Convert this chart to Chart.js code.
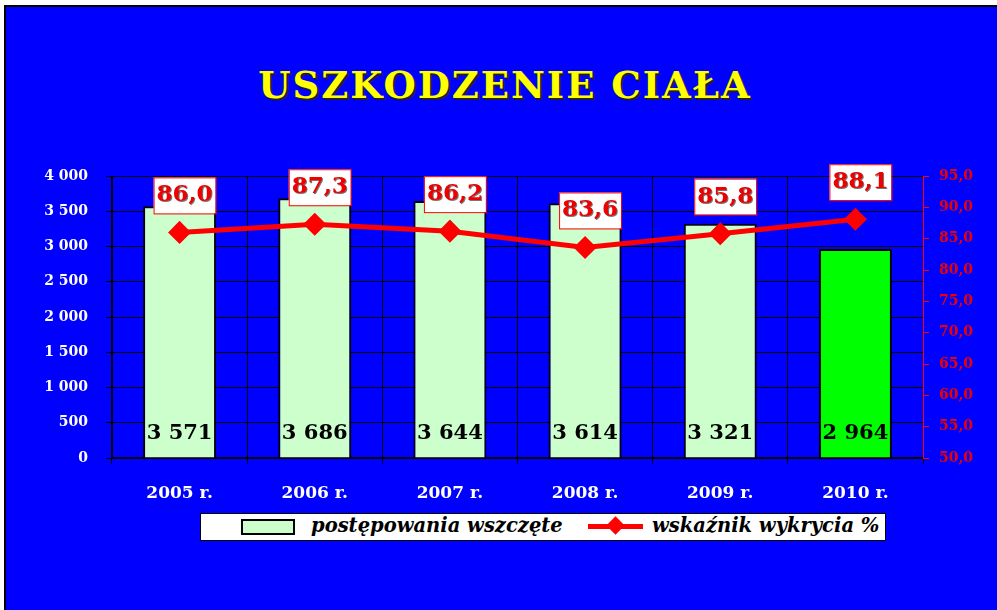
<!DOCTYPE html>
<html>
<head>
<meta charset="utf-8">
<script src="https://cdn.jsdelivr.net/npm/chart.js@4"></script>
<style>
   html, body { margin: 0; padding: 0; background: #fff; }
   #frame {
      position: absolute; left: 4px; top: 5px; width: 991px; height: 603px;
      background: #0000ff; border: 2px solid #000; border-right: none; border-bottom: none;
      overflow: hidden;
   }
   #title {
      position: absolute; left: 0; top: 56px; width: 998px; text-align: center;
      font: bold 37px "DejaVu Serif", serif; color: #ffff00;
      text-shadow: 2px 2px 0 #222;
      letter-spacing: 2px;
   }
   #chart-wrap { position: absolute; left: -6px; top: -7px; width: 997px; height: 610px; }
   #legend {
      position: absolute; left: 194px; top: 506px; width: 684px; height: 26px;
      background: #fff; border: 1px solid #000;
      font: italic bold 19.5px "DejaVu Serif", serif; color: #000;
   }
   #legend .item { position: absolute; top: 0px; white-space: nowrap; }
   #legend .box {
      position: absolute; left: 40px; top: 5px; width: 50px; height: 12px;
      background: #ccffcc; border: 2px solid #000;
   }
   #legend .line { position: absolute; left: 387px; top: 10px; width: 55px; height: 5px; background: #ff0000; }
   #legend .dia {
      position: absolute; left: 408px; top: 5px; width: 13px; height: 13px;
      background: #ff0000; transform: rotate(45deg);
   }
</style>
</head>
<body>
<div id="frame">
   <div id="title">USZKODZENIE CIAŁA</div>
   <div id="chart-wrap"><canvas id="chart" width="997" height="610"></canvas></div>
   <div id="legend">
      <div class="box"></div>
      <div class="item" style="left: 110px;">postępowania wszczęte</div>
      <div class="line"></div>
      <div class="dia"></div>
      <div class="item" style="left: 451px;">wskaźnik wykrycia %</div>
   </div>
</div>
<script>
const years = ['2005 r.', '2006 r.', '2007 r.', '2008 r.', '2009 r.', '2010 r.'];
const cases = [3571, 3686, 3644, 3614, 3321, 2964];
const detection = [86.0, 87.3, 86.2, 83.6, 85.8, 88.1];
const barColors = ['#ccffcc', '#ccffcc', '#ccffcc', '#ccffcc', '#ccffcc', '#00ff00'];

const serif = '"DejaVu Serif", serif';

function fmtThousands(v) {
   return String(v).replace(/\B(?=(\d{3})+(?!\d))/g, ' ');
}
function fmtComma(v) {
   return v.toFixed(1).replace('.', ',');
}

// draws the value labels: numbers at bar foot, boxed percentages above the points
const valueLabels = {
   id: 'valueLabels',
   afterDatasetsDraw(chart) {
      const ctx = chart.ctx;
      const bars = chart.getDatasetMeta(0).data;
      const pts = chart.getDatasetMeta(1).data;
      const base = chart.scales.y.getPixelForValue(0);
      ctx.save();
      ctx.textAlign = 'center';
      ctx.textBaseline = 'middle';
      ctx.font = 'bold 21px ' + serif;
      ctx.fillStyle = '#000';
      bars.forEach((b, i) => {
         ctx.fillText(fmtThousands(cases[i]), b.x, base - 24);
      });
      ctx.font = 'bold 23px ' + serif;
      pts.forEach((p, i) => {
         const cx = p.x + 5, cy = p.y - 37;
         ctx.fillStyle = '#fff';
         ctx.fillRect(cx - 31, cy - 18, 62, 36);
         ctx.strokeStyle = '#ff0000';
         ctx.lineWidth = 1;
         ctx.strokeRect(cx - 31 + 0.5, cy - 18 + 0.5, 62, 36);
         ctx.fillStyle = '#777';
         ctx.fillText(fmtComma(detection[i]), cx + 1, cy + 1);
         ctx.fillStyle = '#ee0000';
         ctx.fillText(fmtComma(detection[i]), cx, cy);
      });
      ctx.restore();
   }
};

new Chart(document.getElementById('chart'), {
   data: {
      labels: years,
      datasets: [
         {
            type: 'bar',
            label: 'postępowania wszczęte',
            data: cases,
            yAxisID: 'y',
            backgroundColor: barColors,
            borderColor: '#000',
            borderWidth: 2,
            barPercentage: 0.54,
            categoryPercentage: 1,
            order: 2
         },
         {
            type: 'line',
            label: 'wskaźnik wykrycia %',
            data: detection,
            yAxisID: 'y1',
            borderColor: '#ff0000',
            backgroundColor: '#ff0000',
            borderWidth: 5,
            pointStyle: 'rectRot',
            pointRadius: 8,
            tension: 0,
            order: 1
         }
      ]
   },
   options: {
      responsive: false,
      animation: false,
      layout: { padding: { top: 176, left: 0, right: 0, bottom: 0 } },
      plugins: {
         legend: { display: false },
         tooltip: { enabled: false }
      },
      scales: {
         x: {
            grid: { color: '#000', lineWidth: 1, offset: true, drawTicks: true, tickLength: 6 },
            border: { color: '#000', width: 2 },
            ticks: {
               autoSkip: false, maxRotation: 0,
               color: '#fff', font: { family: serif, weight: 'bold', size: 17 }, padding: 19
            },
            afterFit(s) { s.height = 152; }
         },
         y: {
            position: 'left',
            min: 0, max: 4000,
            grid: { color: '#000', tickLength: 6 },
            border: { color: '#000', width: 1 },
            ticks: {
               stepSize: 500,
               color: '#fff',
               font: { family: serif, weight: 'bold', size: 14 },
               padding: 18,
               callback: v => fmtThousands(v)
            },
            afterFit(s) { s.width = 112; }
         },
         y1: {
            position: 'right',
            min: 50, max: 95,
            grid: { drawOnChartArea: false, color: '#ff0000', tickLength: 6 },
            border: { color: '#ff0000', width: 1 },
            ticks: {
               stepSize: 5,
               color: '#ee0000',
               font: { family: serif, weight: 'bold', size: 14 },
               padding: 10,
               callback: v => fmtComma(v)
            },
            afterFit(s) { s.width = 74; }
         }
      }
   },
   plugins: [valueLabels]
});
</script>
</body>
</html>
